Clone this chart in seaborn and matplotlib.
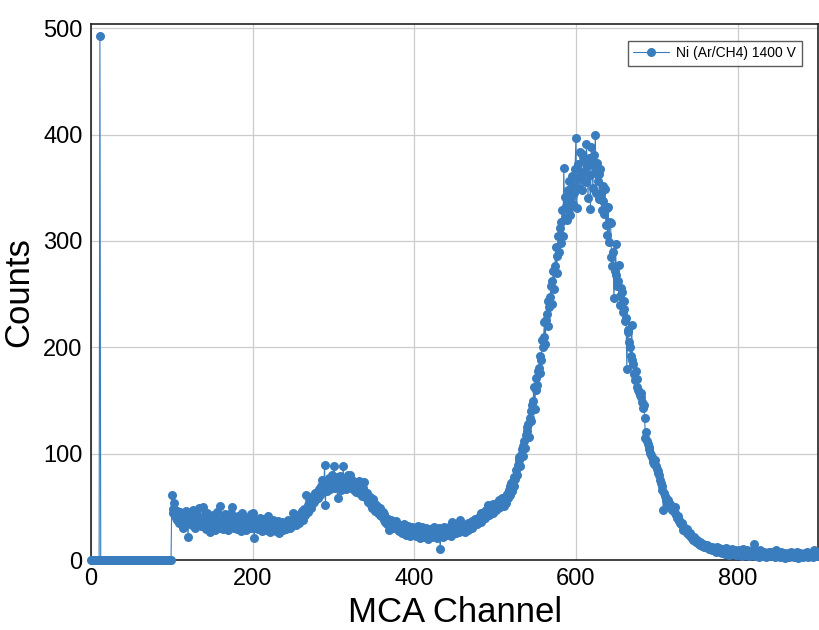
import matplotlib
matplotlib.use("Agg")
import matplotlib.pyplot as plt
import seaborn as sns
import numpy as np
import pandas as pd

# MCA spectrum, Ni source, Ar/CH4 gas, 1400 V -- counts per channel
# channels 0-99: empty except the noise spike at ch 11
counts_000 = [0, 0, 0, 0, 0, 0, 0, 0, 0, 0, 0, 493, 0, 0, 0, 0, 0, 0, 0, 0,
              0, 0, 0, 0, 0, 0, 0, 0, 0, 0, 0, 0, 0, 0, 0, 0, 0, 0, 0, 0,
              0, 0, 0, 0, 0, 0, 0, 0, 0, 0, 0, 0, 0, 0, 0, 0, 0, 0, 0, 0,
              0, 0, 0, 0, 0, 0, 0, 0, 0, 0, 0, 0, 0, 0, 0, 0, 0, 0, 0, 0,
              0, 0, 0, 0, 0, 0, 0, 0, 0, 0, 0, 0, 0, 0, 0, 0, 0, 0, 0, 0]
# channels 100-399: low-energy tail and escape peak
counts_100 = [61, 48, 44, 54, 47, 40, 46, 38, 43, 35, 45, 41, 37, 44, 30, 42, 39, 46, 36, 40,
              22, 38, 43, 35, 41, 33, 47, 39, 36, 30, 44, 37, 41, 34, 49, 38, 32, 40, 50, 36,
              35, 41, 29, 38, 44, 33, 37, 26, 40, 35, 31, 42, 36, 28, 39, 34, 45, 37, 30, 36,
              51, 33, 38, 29, 40, 35, 43, 31, 37, 34, 28, 39, 36, 44, 32, 50, 35, 30, 38, 33,
              36, 29, 41, 34, 38, 27, 35, 44, 31, 37, 33, 40, 28, 36, 32, 39, 35, 30, 43, 34,
              44, 30, 21, 35, 33, 38, 29, 36, 31, 40, 34, 27, 37, 32, 39, 30, 35, 28, 33, 41,
              31, 36, 26, 34, 30, 38, 29, 33, 35, 27, 32, 37, 30, 25, 34, 31, 36, 28, 33, 30,
              34, 29, 36, 31, 38, 33, 30, 37, 35, 32, 44, 36, 34, 40, 33, 38, 42, 35, 39, 41,
              40, 46, 38, 44, 48, 42, 61, 47, 52, 45, 50, 56, 49, 58, 53, 60, 55, 63, 57, 62,
              64, 58, 67, 61, 70, 63, 75, 68, 66, 89, 52, 71, 65, 74, 69, 77, 67, 72, 80, 70,
              75, 88, 68, 72, 78, 58, 74, 70, 79, 66, 76, 71, 88, 69, 77, 73, 67, 75, 80, 71,
              80, 72, 68, 75, 70, 66, 73, 69, 64, 71, 67, 74, 63, 69, 65, 60, 68, 62, 73, 64,
              60, 57, 63, 55, 56, 59, 52, 54, 49, 57, 50, 46, 53, 48, 51, 44, 47, 42, 49, 41,
              41, 45, 38, 43, 36, 40, 34, 39, 37, 28, 35, 38, 33, 36, 30, 34, 31, 37, 29, 33,
              30, 27, 33, 28, 31, 25, 29, 34, 26, 30, 24, 28, 32, 26, 29, 23, 27, 31, 25, 28]
# channels 400-699: valley and main photopeak
counts_400 = [26, 30, 23, 27, 32, 24, 28, 21, 29, 25, 31, 26, 22, 28, 24, 30, 27, 20, 26, 29,
              25, 28, 22, 27, 31, 24, 26, 29, 21, 27, 23, 30, 10, 26, 24, 28, 22, 31, 25, 27,
              29, 24, 27, 31, 25, 28, 23, 36, 26, 30, 27, 32, 25, 29, 34, 26, 30, 38, 28, 31,
              27, 32, 29, 26, 33, 30, 35, 28, 31, 34, 32, 37, 30, 36, 33, 39, 35, 38, 34, 40,
              37, 41, 44, 36, 42, 39, 45, 43, 40, 47, 44, 52, 42, 48, 45, 50, 46, 53, 44, 49,
              51, 47, 54, 49, 52, 56, 50, 53, 58, 52, 55, 51, 57, 60, 54, 62, 58, 66, 61, 70,
              72, 65, 74, 70, 78, 76, 85, 80, 89, 94, 97, 88, 99, 104, 98, 107, 112, 105, 118, 125,
              121, 128, 116, 134, 140, 131, 146, 150, 163, 142, 160, 171, 165, 178, 181, 176, 192, 188, 207, 200,
              210, 224, 203, 226, 231, 220, 244, 238, 247, 258, 241, 262, 272, 255, 276, 294, 270, 286, 305, 290,
              312, 298, 318, 329, 305, 369, 322, 341, 333, 320, 348, 330, 356, 324, 340, 361, 335, 352, 345, 368,
              397, 331, 358, 372, 350, 384, 362, 382, 348, 357, 376, 366, 355, 391, 370, 340, 378, 362, 330, 388,
              372, 350, 381, 364, 400, 345, 373, 356, 363, 339, 368, 344, 329, 352, 338, 325, 349, 315, 331, 306,
              332, 299, 318, 317, 285, 276, 290, 246, 272, 297, 268, 258, 262, 277, 248, 240, 256, 252, 233, 244,
              236, 225, 228, 180, 216, 214, 205, 200, 192, 221, 188, 184, 175, 169, 178, 170, 163, 160, 158, 155,
              157, 153, 149, 143, 146, 134, 115, 120, 112, 109, 106, 104, 101, 99, 97, 95, 92, 90, 94, 88]
# channels 700-900: high-energy tail
counts_700 = [86, 84, 82, 80, 75, 72, 66, 70, 47, 63, 60, 58, 56, 54, 56, 52, 50, 53, 49, 47,
              48, 46, 44, 50, 42, 40, 41, 37, 38, 35, 34, 35, 32, 28, 30, 28, 27, 29, 25, 26,
              24, 25, 22, 23, 21, 19, 22, 20, 18, 17, 19, 16, 15, 17, 14, 16, 13, 15, 12, 14,
              13, 12, 14, 11, 13, 10, 12, 11, 9, 12, 10, 11, 9, 8, 10, 12, 9, 11, 8, 10,
              9, 7, 10, 8, 6, 9, 11, 7, 8, 5, 9, 7, 8, 10, 6, 8, 7, 9, 5, 8,
              7, 6, 9, 5, 8, 7, 4, 10, 6, 8, 5, 7, 9, 6, 4, 8, 7, 5, 6, 9,
              15, 6, 4, 8, 5, 7, 3, 6, 9, 5, 7, 4, 6, 8, 5, 3, 7, 6, 4, 8,
              5, 6, 8, 4, 7, 5, 3, 6, 9, 4, 6, 5, 7, 3, 8, 5, 6, 4, 7, 2,
              6, 4, 7, 5, 3, 6, 8, 4, 5, 7, 3, 6, 4, 8, 5, 2, 6, 7, 4, 5,
              6, 3, 5, 7, 4, 6, 8, 3, 5, 4, 7, 5, 6, 3, 9, 4, 5, 6, 8, 4,
              5]

counts = counts_000 + counts_100 + counts_400 + counts_700
channels = list(range(len(counts)))
series_label = "Ni (Ar/CH4) 1400 V"
x_ticks = [0, 200, 400, 600, 800]
y_ticks = [0, 100, 200, 300, 400, 500]

df = pd.DataFrame({"channel": channels, "counts": counts})

sns.set_style("whitegrid")
plt.rcParams['font.family'] = ['Liberation Sans', 'DejaVu Sans']

fig = plt.figure(figsize=(8.2, 6.3), dpi=100)
ax = fig.add_axes([0.111, 0.111, 0.887, 0.851])

color = "#3a7dbf"
sns.lineplot(data=df, x="channel", y="counts", ax=ax, color=color,
             linewidth=0.8, marker="o", markersize=6.5, markeredgewidth=0,
             label=series_label, clip_on=False, zorder=3)

ax.set_xlim(0, 900)
ax.set_ylim(0, 504)
ax.set_xticks(x_ticks)
ax.set_yticks(y_ticks)
ax.set_xlabel("MCA Channel", fontsize=25, labelpad=4, color="black")
ax.set_ylabel("Counts", fontsize=25, labelpad=6, color="black")
ax.tick_params(axis="both", labelsize=17, direction="in", length=5,
               width=1, color="#222222", labelcolor="black", pad=6)
ax.grid(True, color="#cccccc", linewidth=0.9)
for sp in ax.spines.values():
    sp.set_color("#222222")
    sp.set_linewidth(1.2)

leg = ax.legend(loc="upper right", fontsize=10, frameon=True, fancybox=False,
                borderaxespad=1.2, handlelength=2.6, handletextpad=0.5)
leg.get_frame().set_edgecolor("#333333")
leg.get_frame().set_linewidth(1)
for t in leg.get_texts():
    t.set_color("black")

fig.savefig("out.png", dpi=100)
